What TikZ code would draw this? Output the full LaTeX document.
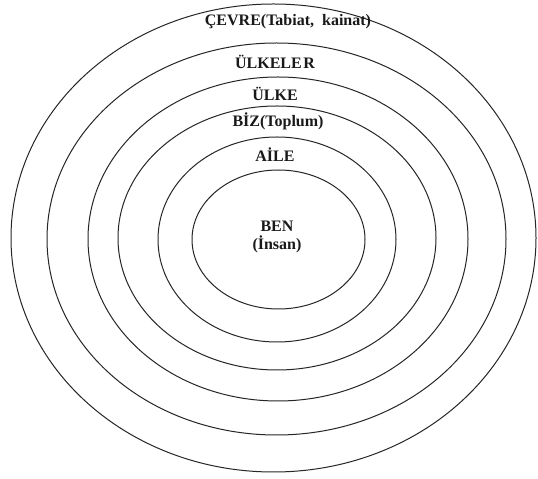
\documentclass[tikz,border=0pt]{standalone}
\usepackage{fontspec}
\setmainfont{Liberation Serif}
\begin{document}
\begin{tikzpicture}[x=1pt,y=1pt,
  ring/.style={draw=black!85, line width=1pt},
  lbl/.style={font=\fontsize{16}{17.5}\selectfont\bfseries, inner sep=0pt, text=black!90}]
\useasboundingbox (0,0) rectangle (538,479);
\fill[white] (0,0) rectangle (538,479);
\draw[ring] (273.5,241) ellipse [x radius=262.5, y radius=234];
\draw[ring] (276.5,240) ellipse [x radius=229.5, y radius=196];
\draw[ring] (278,240) ellipse [x radius=190, y radius=162];
\draw[ring] (277,241) ellipse [x radius=159, y radius=132];
\draw[ring] (277,239.5) ellipse [x radius=119, y radius=102.5];
\draw[ring] (278.5,239.5) ellipse [x radius=86.5, y radius=69.5];
\node[lbl] (cevre) at (288,457) {ÇEVRE(Tabiat,\ \ kainat)};
\node[lbl] (ulkeler) at (275,417) {ÜLKELE\kern1.5pt R};
\node[lbl] (ulke) at (275,385) {ÜLKE};
\node[lbl] (biz) at (278,358) {BİZ(Toplum)};
\node[lbl] (aile) at (275,324) {AİLE};
\node[lbl, align=center] (ben) at (277,242) {BEN\\(İnsan)};
\end{tikzpicture}
\end{document}
